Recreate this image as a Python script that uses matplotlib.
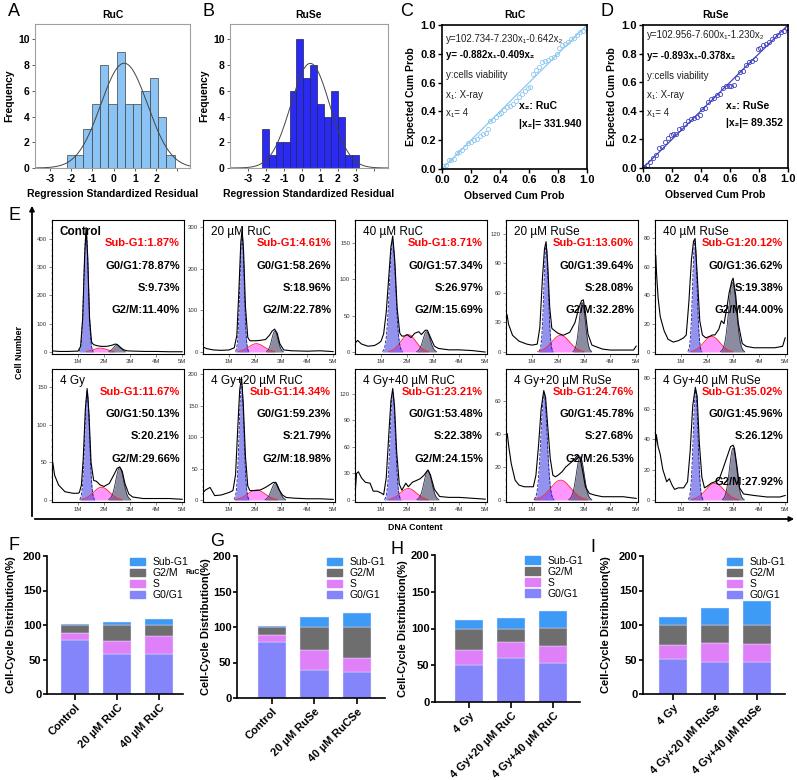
import matplotlib
matplotlib.use('Agg')
import matplotlib.pyplot as plt
import numpy as np
from matplotlib.ticker import AutoMinorLocator
from matplotlib.patches import Patch, FancyArrowPatch

plt.rcParams['font.family'] = ['Liberation Sans', 'DejaVu Sans']

# ---------------- data ----------------
# A / B: residual histograms (counts per bin) and fitted normal curve
ruc_counts = [1, 1, 3, 5, 8, 5, 9, 5, 5, 6, 7, 4, 1]
ruse_counts = [3, 1, 2, 2, 6, 10, 7, 8, 5, 4, 6, 4, 1, 1]
ruc_bins = (-2.2, 0.39)       # first edge, bin width
ruse_bins = (-2.23, 0.386)
ruc_fit = (0.5, 1.1, 8.15)    # mean, sd, peak height
ruse_fit = (0.47, 1.08, 8.14)

# C / D: P-P plots
ruc_obs = [0.01, 0.03, 0.05, 0.06, 0.08, 0.10, 0.12, 0.14, 0.16, 0.18, 0.20, 0.22, 0.24,
           0.26, 0.28, 0.30, 0.32, 0.33, 0.35, 0.37, 0.39, 0.41, 0.43, 0.45, 0.47, 0.49,
           0.51, 0.53, 0.55, 0.57, 0.59, 0.61, 0.63, 0.65, 0.67, 0.69, 0.71, 0.73, 0.75,
           0.77, 0.79, 0.81, 0.83, 0.85, 0.87, 0.89, 0.91, 0.93, 0.95, 0.97, 0.99]
ruc_exp = [0.02, 0.03, 0.06, 0.06, 0.07, 0.11, 0.12, 0.13, 0.15, 0.18, 0.19, 0.20, 0.21,
           0.23, 0.24, 0.25, 0.28, 0.33, 0.34, 0.36, 0.38, 0.39, 0.41, 0.43, 0.44, 0.45,
           0.47, 0.50, 0.52, 0.54, 0.56, 0.57, 0.66, 0.69, 0.71, 0.74, 0.75, 0.76, 0.77,
           0.78, 0.80, 0.84, 0.86, 0.87, 0.88, 0.90, 0.91, 0.93, 0.95, 0.96, 0.98]
ruse_obs = [0.01, 0.03, 0.05, 0.07, 0.09, 0.11, 0.13, 0.15, 0.17, 0.19, 0.21, 0.23, 0.25,
            0.27, 0.29, 0.31, 0.33, 0.35, 0.37, 0.39, 0.41, 0.43, 0.45, 0.47, 0.49, 0.51,
            0.53, 0.55, 0.57, 0.59, 0.61, 0.63, 0.65, 0.67, 0.69, 0.71, 0.73, 0.75, 0.77,
            0.79, 0.81, 0.83, 0.85, 0.87, 0.89, 0.91, 0.93, 0.95, 0.97, 0.99]
ruse_exp = [0.01, 0.02, 0.04, 0.07, 0.09, 0.14, 0.15, 0.18, 0.21, 0.23, 0.24, 0.24, 0.27,
            0.28, 0.31, 0.33, 0.34, 0.35, 0.36, 0.37, 0.41, 0.42, 0.46, 0.48, 0.49, 0.51,
            0.52, 0.56, 0.57, 0.57, 0.57, 0.58, 0.63, 0.67, 0.68, 0.72, 0.74, 0.75, 0.76,
            0.83, 0.84, 0.86, 0.87, 0.88, 0.90, 0.92, 0.93, 0.95, 0.96, 0.98]

# E: cell-cycle results (also used by F-I)
groups = ['Control', '20 µM RuC', '40 µM RuC', '20 µM RuSe', '40 µM RuSe',
          '4 Gy', '4 Gy+20 µM RuC', '4 Gy+40 µM RuC', '4 Gy+20 µM RuSe', '4 Gy+40 µM RuSe']
sub_g1 = [1.87, 4.61, 8.71, 13.60, 20.12, 11.67, 14.34, 23.21, 24.76, 35.02]
g0g1 = [78.87, 58.26, 57.34, 39.64, 36.62, 50.13, 59.23, 53.48, 45.78, 45.96]
s_phase = [9.73, 18.96, 26.97, 28.08, 19.38, 20.21, 21.79, 22.38, 27.68, 26.12]
g2m = [11.40, 22.78, 15.69, 32.28, 44.00, 29.66, 18.98, 24.15, 26.53, 27.92]

# fitted peaks (centre in M, height, width)
g1_fit = [(1.31, 425, 0.085), (1.50, 285, 0.08), (1.44, 152, 0.12), (1.54, 108, 0.085),
          (1.53, 78, 0.085), (1.35, 145, 0.09), (1.48, 185, 0.09), (1.45, 122, 0.10),
          (1.46, 64, 0.12), (1.56, 72, 0.09)]
s_fit = [(1.85, 14, 0.27), (2.05, 20, 0.30), (2.05, 24, 0.29), (2.10, 17, 0.34),
         (2.18, 11, 0.31), (1.90, 17, 0.31), (2.05, 16, 0.33), (2.05, 13, 0.31),
         (2.10, 12, 0.38), (2.30, 11, 0.35)]
g2_fit = [(2.50, 25, 0.14), (2.76, 50, 0.12), (2.75, 28, 0.14), (2.93, 50, 0.12),
          (2.98, 49, 0.15), (2.60, 43, 0.15), (2.78, 27, 0.15), (2.80, 33, 0.15),
          (2.85, 26, 0.15), (3.00, 34, 0.14)]

# measured DNA histograms (x in M, counts)
trace_x = [
    [0, 0.3, 0.6, 0.9, 1.0, 1.1, 1.18, 1.25, 1.31, 1.37, 1.44, 1.52, 1.6, 1.75, 1.9, 2.1,
     2.3, 2.42, 2.5, 2.6, 2.75, 2.9, 3.2, 3.6, 4.0, 4.5, 5.0],
    [0, 0.15, 0.4, 0.7, 1.0, 1.2, 1.3, 1.38, 1.45, 1.5, 1.56, 1.63, 1.72, 1.8, 2.0, 2.2, 2.4,
     2.55, 2.65, 2.75, 2.85, 2.95, 3.1, 3.4, 4.0, 4.5, 5.0],
    [0, 0.1, 0.25, 0.5, 0.75, 0.9, 1.0, 1.1, 1.2, 1.3, 1.38, 1.45, 1.53, 1.62, 1.72, 1.8,
     1.9, 2.0, 2.15, 2.3, 2.45, 2.55, 2.7, 2.78, 2.9, 3.05, 3.2, 3.6, 4.0, 4.5, 5.0],
    [0, 0.04, 0.1, 0.25, 0.5, 0.8, 1.0, 1.2, 1.3, 1.4, 1.48, 1.54, 1.6, 1.68, 1.76, 1.85,
     2.0, 2.2, 2.45, 2.65, 2.8, 2.9, 2.97, 3.05, 3.15, 3.3, 3.5, 3.7, 4.0, 4.5, 4.9, 5.0],
    [0, 0.03, 0.06, 0.12, 0.2, 0.35, 0.5, 0.7, 0.9, 1.1, 1.2, 1.3, 1.4, 1.48, 1.54, 1.62,
     1.72, 1.82, 1.95, 2.1, 2.2, 2.3, 2.45, 2.55, 2.65, 2.75, 2.85, 2.95, 3.0, 3.1, 3.2, 3.35,
     3.5, 3.8, 4.2, 4.6, 4.9, 5.0],
    [0, 0.03, 0.1, 0.25, 0.5, 0.8, 1.0, 1.05, 1.13, 1.2, 1.28, 1.35, 1.42, 1.5, 1.6, 1.7,
     1.85, 2.0, 2.2, 2.4, 2.5, 2.6, 2.7, 2.8, 2.95, 3.1, 3.5, 4.0, 4.5, 5.0],
    [0, 0.1, 0.27, 0.45, 0.7, 1.0, 1.15, 1.25, 1.33, 1.41, 1.48, 1.55, 1.63, 1.72, 1.8, 2.0,
     2.2, 2.4, 2.55, 2.7, 2.8, 2.9, 3.05, 3.2, 3.5, 4.0, 4.5, 5.0],
    [0, 0.06, 0.13, 0.25, 0.4, 0.58, 0.7, 0.85, 1.0, 1.1, 1.2, 1.3, 1.38, 1.45, 1.52, 1.6,
     1.7, 1.8, 1.95, 2.05, 2.2, 2.35, 2.5, 2.65, 2.8, 2.9, 3.05, 3.25, 3.6, 4.0, 4.5, 5.0],
    [0, 0.05, 0.1, 0.2, 0.35, 0.5, 0.7, 0.9, 1.05, 1.15, 1.25, 1.35, 1.45, 1.52, 1.6, 1.7,
     1.8, 1.9, 2.0, 2.15, 2.3, 2.45, 2.6, 2.75, 2.85, 2.95, 3.05, 3.2, 3.4, 3.7, 4.0, 4.5, 5.0],
    [0, 0.05, 0.12, 0.2, 0.3, 0.45, 0.55, 0.65, 0.75, 0.9, 1.1, 1.25, 1.35, 1.45, 1.55, 1.62,
     1.7, 1.8, 1.9, 2.0, 2.15, 2.3, 2.45, 2.6, 2.7, 2.8, 2.9, 3.0, 3.05, 3.15, 3.25, 3.4,
     3.8, 4.3, 4.8, 5.0],
]
trace_y = [
    [4, 2, 2, 3, 3, 20, 120, 330, 440, 340, 120, 35, 26, 22, 20, 20, 24, 28, 27, 18, 8, 4, 3,
     2, 2, 1, 1],
    [12, 8, 5, 4, 5, 10, 40, 150, 260, 295, 240, 110, 35, 27, 27, 28, 30, 40, 50, 55, 45, 20,
     5, 3, 2, 3, 1],
    [12, 16, 11, 8, 9, 12, 15, 25, 55, 105, 145, 160, 125, 60, 26, 22, 22, 24, 20, 26, 28, 24,
     30, 30, 20, 8, 5, 3, 3, 2, 0],
    [30, 38, 28, 17, 11, 8, 7, 8, 25, 75, 105, 112, 90, 45, 24, 22, 19, 17, 20, 30, 45, 52, 53,
     40, 18, 7, 5, 3, 2, 2, 2, 6],
    [40, 68, 55, 38, 25, 15, 9, 7, 8, 10, 12, 35, 65, 78, 80, 55, 22, 12, 10, 11, 12, 12, 16,
     22, 20, 30, 42, 50, 52, 40, 20, 6, 4, 3, 3, 3, 4, 10],
    [42, 50, 33, 20, 11, 9, 9, 10, 20, 55, 120, 148, 115, 50, 26, 25, 20, 18, 22, 35, 42, 44,
     38, 22, 8, 4, 2, 2, 2, 1],
    [12, 16, 20, 7, 8, 12, 15, 40, 110, 175, 195, 150, 70, 22, 15, 15, 16, 20, 24, 28, 28, 18,
     8, 4, 3, 2, 2, 1],
    [5, 30, 32, 25, 20, 19, 10, 10, 8, 6, 25, 75, 112, 126, 105, 55, 18, 11, 19, 15, 20, 22,
     24, 28, 34, 28, 12, 4, 3, 3, 2, 1],
    [36, 40, 33, 22, 12, 9, 8, 8, 8, 15, 33, 55, 66, 62, 45, 25, 15, 14, 15, 17, 20, 22, 24,
     27, 25, 17, 8, 4, 3, 2, 2, 2, 1],
    [30, 43, 35, 30, 20, 12, 14, 10, 7, 8, 8, 12, 32, 62, 74, 68, 38, 15, 8, 9, 11, 12, 13,
     20, 25, 30, 35, 36, 34, 22, 8, 4, 3, 2, 2, 3],
]

# F-I: which groups go in each bar panel, and the tick labels
bar_sets = [[0, 1, 2], [0, 3, 4], [5, 6, 7], [5, 8, 9]]
bar_labels = [['Control', '20 µM RuC', '40 µM RuC'],
              ['Control', '20 µM RuSe', '40 µM RuCSe'],
              ['4 Gy', '4 Gy+20 µM RuC', '4 Gy+40 µM RuC'],
              ['4 Gy', '4 Gy+20 µM RuSe', '4 Gy+40 µM RuSe']]

# ---------------- layout ----------------
W, H = 797, 780
fig = plt.figure(figsize=(W / 100, H / 100), dpi=100)


def box(l, t, r, b):
    return [l / W, 1 - b / H, (r - l) / W, (b - t) / H]


def gauss(x, c, h, s):
    return h * np.exp(-0.5 * ((x - c) / s) ** 2)


def letter(x, y, s):
    fig.text(x / W, 1 - y / H, s, fontsize=13, ha='left', va='center')


# ---- A, B histograms
def hist_panel(rect, counts, bins, fit, color, edge, title, xlim, xticks, xlabels):
    ax = fig.add_axes(box(*rect))
    start, width = bins
    lefts = start + width * np.arange(len(counts))
    ax.bar(lefts, counts, width=width, align='edge', color=color, edgecolor=edge, lw=0.5)
    xs = np.linspace(xlim[0], xlim[1], 300)
    ax.plot(xs, gauss(xs, fit[0], fit[2], fit[1]), color='#444444', lw=0.7)
    ax.set_xlim(*xlim)
    ax.set_ylim(0, 11.2)
    ax.set_yticks([0, 2, 4, 6, 8, 10])
    ax.set_xticks(xticks)
    ax.set_xticklabels(xlabels)
    for sp in ax.spines.values():
        sp.set_color('#a0a0a0')
        sp.set_linewidth(0.8)
    ax.tick_params(axis='both', labelsize=7.5, length=2.5, width=0.6, color='#444444', pad=1.5)
    for lab in ax.get_xticklabels() + ax.get_yticklabels():
        lab.set_fontweight('bold')
    ax.set_title(title, fontsize=7.5, fontweight='bold', pad=4)
    ax.set_ylabel('Frequency', fontsize=7.5, fontweight='bold', labelpad=3)
    ax.set_xlabel('Regression Standardized Residual', fontsize=7.5, fontweight='bold', labelpad=4)
    return ax


hist_panel((35, 24, 190, 168), ruc_counts, ruc_bins, ruc_fit, '#8cc3f5', '#404040', 'RuC',
           (-3.7, 3.6), [-3, -2, -1, 0, 1, 2, 3], ['-3', '-2', '-1', '0', '1', '2', ''])
hist_panel((230, 24, 388, 168), ruse_counts, ruse_bins, ruse_fit, '#2a2af0', '#202060', 'RuSe',
           (-4.0, 4.8), [-3, -2, -1, 0, 1, 2, 3, 4], ['-3', '-2', '-1', '0', '1', '2', '3', ''])


# ---- C, D P-P plots
def pp_panel(rect, obs, exp, color, title, lines, bold_idx, right_lines, lys, rys, rx):
    ax = fig.add_axes(box(*rect))
    ax.plot([0, 1], [0, 1], color=color, lw=0.9)
    ax.plot(obs, exp, 'o', ms=3, mfc='none', mec=color, mew=0.6)
    ax.set_xlim(0, 1)
    ax.set_ylim(0, 1)
    ax.set_xticks([0, 0.2, 0.4, 0.6, 0.8, 1.0])
    ax.set_yticks([0, 0.2, 0.4, 0.6, 0.8, 1.0])
    ax.xaxis.set_major_formatter('{x:.1f}')
    ax.yaxis.set_major_formatter('{x:.1f}')
    for sp in ax.spines.values():
        sp.set_linewidth(1.2)
    ax.tick_params(axis='both', labelsize=8, length=3, width=1, pad=1.5)
    for lab in ax.get_xticklabels() + ax.get_yticklabels():
        lab.set_fontweight('bold')
    ax.set_title(title, fontsize=7.5, fontweight='bold', pad=5)
    ax.set_xlabel('Observed Cum Prob', fontsize=7.5, fontweight='bold', labelpad=4)
    ax.set_ylabel('Expected Cum Prob', fontsize=7.5, fontweight='bold', labelpad=3)
    for k, (s, y) in enumerate(zip(lines, lys)):
        ax.text(0.025, y, s, transform=ax.transAxes, fontsize=7, va='center',
                color='#222222' if k != bold_idx else 'black',
                fontweight='bold' if k == bold_idx else 'normal')
    for s, y in zip(right_lines, rys):
        ax.text(rx, y, s, transform=ax.transAxes, fontsize=7.5, va='center', fontweight='bold')
    return ax


pp_panel((442, 25, 587, 169), ruc_obs, ruc_exp, '#8cc8f0', 'RuC',
         ['y=102.734-7.230x₁-0.642x₂', 'y= -0.882x₁-0.409x₂', 'y:cells viability',
          'x₁: X-ray', 'x₁= 4'], 1,
         ['x₂: RuC', '|x₂|= 331.940'], [0.90, 0.79, 0.65, 0.515, 0.39], [0.435, 0.31], 0.53)
pp_panel((643, 25, 788, 168), ruse_obs, ruse_exp, '#4040c0', 'RuSe',
         ['y=102.956-7.600x₁-1.230x₂', 'y= -0.893x₁-0.378x₂', 'y:cells viability',
          'x₁: X-ray', 'x₁= 4'], 1,
         ['x₂: RuSe', '|x₂|= 89.352'], [0.93, 0.78, 0.645, 0.507, 0.384], [0.435, 0.314], 0.575)

# ---- E flow cytometry panels
flow_lefts = [52, 203, 355, 506, 655]
row_tb = [(220, 354), (369, 502)]
flow_ymax = [467, 317, 182, 134, 93, 174, 208, 148, 79, 86]
flow_ystep = [100, 100, 50, 30, 20, 50, 50, 30, 20, 20]
xs = np.linspace(0, 5.07, 700)
for i in range(10):
    row, col = divmod(i, 5)
    l = flow_lefts[col]
    t, b = row_tb[row]
    ax = fig.add_axes(box(l, t, l + 132, b))
    ymax = flow_ymax[i]
    ax.set_xlim(0, 5.07)
    ax.set_ylim(-0.015 * ymax, ymax)
    comps = [(s_fit[i], '#ff40ff', '#ff2020', '-', 0.55),
             (g1_fit[i], '#3a3ae0', '#1a1a90', '--', 0.55),
             (g2_fit[i], '#3e3e62', '#2a2a45', '-', 0.6)]
    for (c, h, s), fc, ec, ls, al in comps:
        yy = gauss(xs, c, h, s)
        m = yy > 0.004 * ymax
        ax.fill_between(xs[m], 0, yy[m], color=fc, alpha=al, lw=0)
        ax.plot(xs[m], yy[m], color=ec, lw=0.6, ls=ls)
    ax.plot(trace_x[i], trace_y[i], color='black', lw=0.8)
    ax.set_xticks([1, 2, 3, 4, 5])
    ax.set_xticklabels(['1M', '2M', '3M', '4M', '5M'])
    ax.set_yticks(np.arange(0, ymax, flow_ystep[i]))
    ax.xaxis.set_minor_locator(AutoMinorLocator(5))
    ax.yaxis.set_minor_locator(AutoMinorLocator(5))
    ax.tick_params(which='major', labelsize=4.3, length=2, width=0.4, pad=1.5, colors='#333333')
    ax.tick_params(which='minor', length=1, width=0.3, colors='#555555')
    for sp in ax.spines.values():
        sp.set_linewidth(0.8)
    ax.text(0.06, 0.91, groups[i], transform=ax.transAxes, fontsize=8.5, va='center',
            fontweight='bold' if i == 0 else 'normal')
    g2y = 0.15 if i == 9 else 0.325
    rows = [(f'Sub-G1:{sub_g1[i]:.2f}%', 'red', 0.825),
            (f'G0/G1:{g0g1[i]:.2f}%', 'black', 0.66),
            (f'S:{s_phase[i]:.2f}%', 'black', 0.495),
            (f'G2/M:{g2m[i]:.2f}%', 'black', g2y)]
    for s, c, y in rows:
        ax.text(0.97, y, s, transform=ax.transAxes, fontsize=8, color=c, ha='right',
                va='center', fontweight='bold')

# E frame arrows and labels
fig.add_artist(FancyArrowPatch((32 / W, 1 - 519 / H), (32 / W, 1 - 203 / H), transform=fig.transFigure,
                               arrowstyle='-|>', mutation_scale=7, lw=1.3, color='black'))
fig.add_artist(FancyArrowPatch((32 / W, 1 - 519 / H), (797 / W, 1 - 519 / H), transform=fig.transFigure,
                               arrowstyle='-|>', mutation_scale=7, lw=1.3, color='black'))
fig.text(20 / W, 1 - 353 / H, 'Cell Number', rotation=90, fontsize=6.5, fontweight='bold',
         ha='center', va='center')
fig.text(415 / W, 1 - 528 / H, 'DNA Content', fontsize=6.3, fontweight='bold', ha='center', va='center')

# ---- F-I stacked bars
bar_rects = [(47, 556, 183, 694), (237, 556, 385, 698), (435, 555, 580, 702), (643, 556, 785, 694)]
bar_xlims = [(-0.67, 2.57), (-0.82, 2.66), (-0.81, 2.64), (-0.71, 2.67)]
ylabel_x = [11, 206, 403, 606]      # pixel x of the y-label centre
leg_x = [0.57, 0.575, 0.586, 0.556]
phase_cols = {'G0/G1': '#8585fb', 'S': '#df80f8', 'G2/M': '#6e6e6e', 'Sub-G1': '#3d9bf5'}
for k in range(4):
    ax = fig.add_axes(box(*bar_rects[k]))
    idx = bar_sets[k]
    pos = np.arange(len(idx))
    bottom = np.zeros(len(idx))
    for name, vals in [('G0/G1', g0g1), ('S', s_phase), ('G2/M', g2m), ('Sub-G1', sub_g1)]:
        v = np.array([vals[j] for j in idx])
        ax.bar(pos, v, bottom=bottom, width=0.67, color=phase_cols[name],
               edgecolor='#e8e8ff', lw=0.3)
        bottom += v
    ax.set_xlim(*bar_xlims[k])
    ax.set_ylim(0, 200)
    ax.set_yticks([0, 50, 100, 150, 200])
    ax.set_xticks(pos)
    ax.set_xticklabels(bar_labels[k], rotation=45, ha='right', rotation_mode='anchor')
    ax.spines['top'].set_visible(False)
    ax.spines['right'].set_visible(False)
    ax.spines['left'].set_linewidth(1.2)
    ax.spines['bottom'].set_linewidth(1.2)
    ax.tick_params(axis='y', labelsize=8, length=3, width=1.2, pad=1)
    ax.tick_params(axis='x', labelsize=8, length=4, width=1.2, pad=2)
    for lab in ax.get_xticklabels() + ax.get_yticklabels():
        lab.set_fontweight('bold')
    ax.set_ylabel('Cell-Cycle Distribution(%)', fontsize=8, fontweight='bold', va='center')
    l, t, r, b = bar_rects[k]
    ax.yaxis.set_label_coords((ylabel_x[k] - l) / (r - l), 0.5)
    handles = [Patch(color=phase_cols[n]) for n in ['Sub-G1', 'G2/M', 'S', 'G0/G1']]
    ax.legend(handles, ['Sub-G1', 'G2/M', 'S', 'G0/G1'], loc='upper left',
              bbox_to_anchor=(leg_x[k], 1.03), frameon=False, fontsize=7.5, borderpad=0,
              labelspacing=0.1, handlelength=1.45, handleheight=0.75, handletextpad=0.7)

fig.text(185 / W, 1 - 573 / H, 'RuC', fontsize=5, fontweight='bold', ha='left', va='center')

# panel letters
for x, y, s in [(8, 12, 'A'), (203, 12, 'B'), (400, 12, 'C'), (600, 12, 'D'), (8, 216, 'E'),
                (8, 545, 'F'), (210, 541, 'G'), (390, 549, 'H'), (590, 547, 'I')]:
    letter(x, y, s)

fig.savefig('out.png', dpi=100)
